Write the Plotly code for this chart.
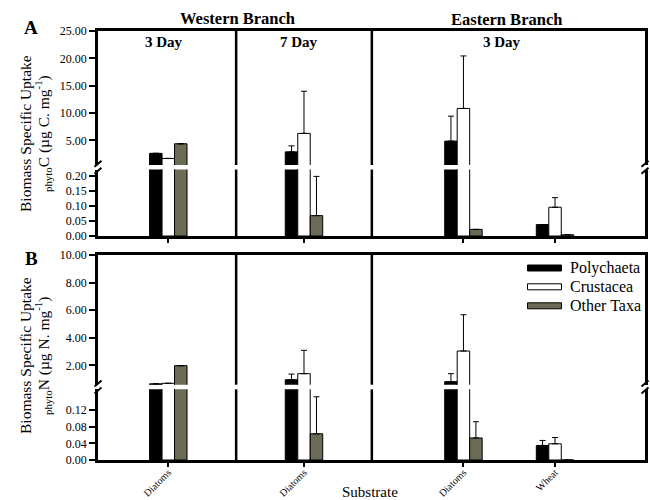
import plotly.graph_objects as go

# ---------------- data ----------------
groups = ["Western 3 Day Diatoms", "Western 7 Day Diatoms", "Eastern 3 Day Diatoms", "Eastern 3 Day Wheat"]
tick_labels = ["Diatoms", "Diatoms", "Diatoms", "Wheat"]
taxa = ["Polychaeta", "Crustacea", "Other Taxa"]

# Panel A: biomass specific uptake of phyto C (ug C mg-1)
c_poly = [2.63, 2.9, 4.87, 0.038]
c_poly_err = [None, 1.1, 4.56, None]
c_crus = [1.7, 6.28, 10.84, 0.096]
c_crus_err = [None, 7.7, 9.6, 0.032]
c_other = [4.38, 0.068, 0.022, 0.004]
c_other_err = [None, 0.131, None, None]

# Panel B: biomass specific uptake of phyto N (ug N mg-1)
n_poly = [0.66, 0.96, 0.82, 0.035]
n_poly_err = [None, 0.41, 0.58, 0.012]
n_crus = [0.70, 1.4, 3.04, 0.039]
n_crus_err = [None, 1.69, 2.63, 0.015]
n_other = [1.98, 0.063, 0.053, 0.0]
n_other_err = [None, 0.089, 0.039, None]

# ---------------- layout helpers ----------------
W, H = 650, 500
L, R, T, B = 98, 5, 31, 40
PW, PH = W - L - R, H - T - B


def X(px):
    return (px - L) / PW


def Y(py):
    return (H - B - py) / PH


FONT = "Liberation Serif"
OLIVE = "#6c6c56"
colors = ["black", "white", OLIVE]

group_pos = [1, 3, 5.35, 6.7]
bar_w = 0.184
offsets = [-bar_w, 0, bar_w]
xrange_ = [-0.036, 8.026]
dividers = [2, 4]

panels = [
    dict(vals=[c_poly, c_crus, c_other], errs=[c_poly_err, c_crus_err, c_other_err],
         upper=("x", "y"), lower=("x2", "y2")),
    dict(vals=[n_poly, n_crus, n_other], errs=[n_poly_err, n_crus_err, n_other_err],
         upper=("x3", "y3"), lower=("x4", "y4")),
]

fig = go.Figure()
for p in panels:
    for xa, ya in (p["upper"], p["lower"]):
        for k, name in enumerate(taxa):
            fig.add_trace(go.Bar(
                name=name,
                x=[g + offsets[k] for g in group_pos],
                y=p["vals"][k],
                width=bar_w,
                marker=dict(color=colors[k], line=dict(color="black", width=1)),
                error_y=dict(type="data", symmetric=False,
                             array=[e if e is not None else float("nan") for e in p["errs"][k]],
                             arrayminus=[0, 0, 0, 0],
                             color="black", thickness=1, width=3),
                xaxis=xa, yaxis=ya, showlegend=False,
                hovertext=groups,
            ))

ax_line = dict(showline=True, linecolor="black", linewidth=2.5, showgrid=False, zeroline=False,
               automargin=False)
tickfont = dict(family=FONT, size=12, color="black")

def xaxis(anchor, side, ticks, labels):
    d = dict(ax_line, range=xrange_, anchor=anchor, side=side, fixedrange=True)
    if ticks:
        d.update(ticks="outside", ticklen=4, tickwidth=2, tickcolor="black",
                 tickvals=group_pos, ticktext=tick_labels, tickangle=-45,
                 ticklabelstandoff=-4,
                 showticklabels=labels, tickfont=dict(family=FONT, size=10, color="black"))
    else:
        d.update(ticks="", showticklabels=False)
    return d


def yaxis(anchor, domain, rng, tv):
    return dict(ax_line, mirror=True, anchor=anchor, domain=domain, range=rng,
                tickvals=tv, tickformat=".2f", ticks="outside", ticklen=6, tickwidth=2,
                tickcolor="black", tickfont=tickfont, fixedrange=True)


fig.update_layout(
    width=W, height=H,
    margin=dict(l=L, r=R, t=T, b=B, autoexpand=False),
    plot_bgcolor="white", paper_bgcolor="white",
    barmode="overlay", showlegend=False,
    font=dict(family=FONT, color="black", size=12),
    xaxis=xaxis("y", "top", False, False),
    xaxis2=xaxis("y2", "bottom", True, False),
    xaxis3=xaxis("y3", "top", False, False),
    xaxis4=xaxis("y4", "bottom", True, True),
    yaxis=yaxis("x", [Y(165), Y(31)], [0.5, 25], [5, 10, 15, 20, 25]),
    yaxis2=yaxis("x2", [Y(236), Y(169.5)], [0, 0.222], [0, 0.05, 0.1, 0.15, 0.2]),
    yaxis3=yaxis("x3", [Y(384.7), Y(255)], [0.6, 10], [2, 4, 6, 8, 10]),
    yaxis4=yaxis("x4", [0, Y(389.3)], [0, 0.17], [0, 0.04, 0.08, 0.12]),
)

shapes = []
# section dividers
for xa, ya in [("x", "y"), ("x2", "y2"), ("x3", "y3"), ("x4", "y4")]:
    for d in dividers:
        shapes.append(dict(type="line", xref=xa, yref=ya + " domain", x0=d, x1=d, y0=0, y1=1,
                           line=dict(color="black", width=2.5)))
# axis break marks
for cy in (167.25, 387.0):
    for cx in (L, W - R):
        for dy in (-3.5, 3.5):
            shapes.append(dict(type="line", xref="paper", yref="paper",
                               x0=X(cx - 3.5), y0=Y(cy + dy + 3), x1=X(cx + 3.5), y1=Y(cy + dy - 3),
                               line=dict(color="black", width=2)))
# legend symbols
leg_rows = [268, 286.8, 305.8]
for k, name in enumerate(taxa):
    cy = leg_rows[k]
    shapes.append(dict(type="rect", xref="paper", yref="paper",
                       x0=X(527.5), x1=X(561.5), y0=Y(cy + 3), y1=Y(cy - 3),
                       fillcolor=colors[k], line=dict(color="black", width=1)))
fig.update_layout(shapes=shapes)

ann = []
def text(s, px, py, size, bold=False, angle=0, xanchor="center"):
    ann.append(dict(text=("<b>%s</b>" % s) if bold else s, x=X(px), y=Y(py), xref="paper", yref="paper",
                    showarrow=False, xanchor=xanchor, yanchor="middle", textangle=angle,
                    font=dict(family=FONT, size=size, color="black")))

text("Western Branch", 237, 18, 16.5, bold=True)
text("Eastern Branch", 506, 19, 16.5, bold=True)
text("3 Day", 164, 42, 15, bold=True)
text("7 Day", 299, 42, 15, bold=True)
text("3 Day", 502, 42, 15, bold=True)
text("A", 31, 28, 19, bold=True)
text("B", 31, 258, 19, bold=True)
text("Biomass Specific Uptake", 25, 134, 15.5, angle=-90)
text("<sub>phyto</sub>C (µg C. mg<sup>-1</sup>)", 43, 134, 15.5, angle=-90)
text("Biomass Specific Uptake", 25, 356, 15.5, angle=-90)
text("<sub>phyto</sub>N (µg N. mg<sup>-1</sup>)", 43, 356, 15.5, angle=-90)
text("Substrate", 370, 492, 15)
for k, name in enumerate(taxa):
    text(name, 568, leg_rows[k], 16, xanchor="left")
fig.update_layout(annotations=ann)

fig.write_html("out.html", config={"displayModeBar": False},
               post_script="document.body.style.margin='0';document.body.style.overflow='hidden';")
